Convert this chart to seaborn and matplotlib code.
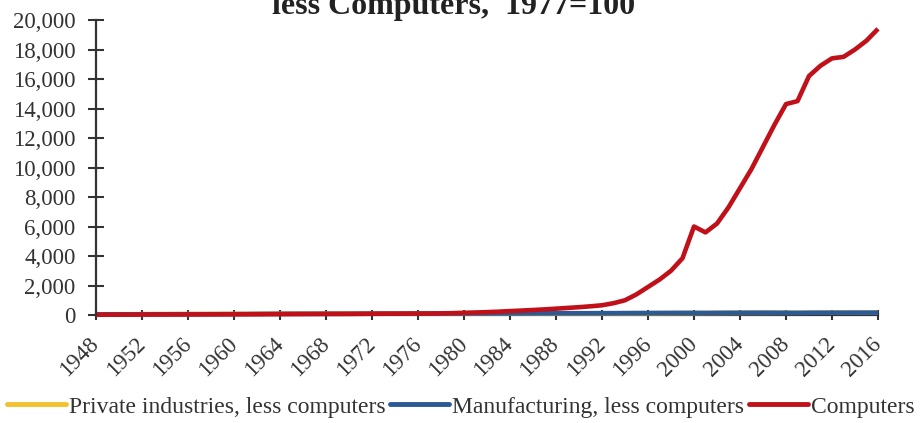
import matplotlib
matplotlib.use("Agg")
import matplotlib.pyplot as plt
import matplotlib.ticker as mticker
import seaborn as sns
import pandas as pd

years = list(range(1948, 2017))

computers = [20, 22, 24, 26, 28, 31, 33, 35, 38, 40,
             42, 45, 48, 50, 53, 56, 59, 62, 65, 68,
             71, 73, 76, 79, 82, 86, 89, 93, 96, 100,
             110, 125, 150, 170, 195, 225, 265, 300, 340, 380,
             430, 480, 530, 590, 660, 800, 1000, 1400, 1900, 2400,
             3000, 3850, 6000, 5600, 6200, 7300, 8600, 9900, 11400, 12900,
             14300, 14500, 16200, 16900, 17400, 17500, 18000, 18600, 19400]

private_less_computers = [48, 50, 53, 55, 57, 59, 61, 63, 65, 66,
                          68, 70, 71, 74, 77, 80, 83, 85, 87, 88,
                          89, 91, 92, 95, 97, 98, 97, 96, 99, 100,
                          100, 99, 98, 99, 100, 102, 103, 105, 106, 107,
                          108, 109, 110, 111, 114, 115, 116, 118, 119, 122,
                          124, 128, 131, 133, 136, 139, 142, 143, 144, 146,
                          148, 150, 153, 154, 155, 156, 157, 158, 159]

manufacturing_less_computers = [40, 42, 46, 47, 49, 52, 51, 55, 56, 56,
                                57, 61, 62, 64, 69, 73, 76, 78, 79, 78,
                                80, 80, 79, 84, 88, 91, 88, 89, 96, 100,
                                101, 101, 99, 101, 104, 108, 111, 113, 116, 118,
                                120, 121, 121, 123, 126, 128, 131, 134, 137, 140,
                                143, 146, 144, 140, 146, 150, 153, 155, 157, 154,
                                150, 144, 152, 156, 158, 159, 160, 161, 162]

series_names = ["Private industries, less computers",
                "Manufacturing, less computers",
                "Computers"]
series_colors = ["#F2C12E", "#2B5A97", "#C0111A"]
x_ticks = list(range(1948, 2017, 4))
y_ticks = list(range(0, 20001, 2000))
title_text = "less Computers,  1977=100"

df = pd.concat([
    pd.DataFrame({"Year": years, "Index": private_less_computers, "Series": series_names[0]}),
    pd.DataFrame({"Year": years, "Index": manufacturing_less_computers, "Series": series_names[1]}),
    pd.DataFrame({"Year": years, "Index": computers, "Series": series_names[2]}),
], ignore_index=True)

sns.set_style("white")
plt.rcParams["font.family"] = ["Liberation Serif", "DejaVu Serif"]

fig = plt.figure(figsize=(9.21, 4.23), dpi=100)
ax = fig.add_axes([96 / 921, 1 - 315 / 423, (878 - 96) / 921, (315 - 20) / 423])

sns.lineplot(data=df, x="Year", y="Index", hue="Series", hue_order=series_names,
             palette=dict(zip(series_names, series_colors)), linewidth=3.3,
             ax=ax, legend=False)
for ln in ax.lines:
    ln.set_clip_on(False)
    ln.set_solid_capstyle("butt")

ax.set_xlim(1948, 2016)
ax.set_ylim(0, 20000)
ax.set_xticks(x_ticks)
ax.set_yticks(y_ticks)
ax.yaxis.set_major_formatter(mticker.FuncFormatter(lambda v, p: f"{v:,.0f}"))
ax.set_xlabel("")
ax.set_ylabel("")

for s in ["top", "right"]:
    ax.spines[s].set_visible(False)
for s in ["left", "bottom"]:
    ax.spines[s].set_color("#333333")
    ax.spines[s].set_linewidth(1.6)
ax.spines["bottom"].set_zorder(0)

ax.tick_params(axis="y", left=True, direction="inout", length=11.5, width=1.5, color="#333333",
               pad=9, labelsize=16.5, labelcolor="#333333")
ax.tick_params(axis="x", bottom=True, direction="inout", length=7, width=1.5, color="#333333",
               pad=15, labelsize=16.5, labelcolor="#333333")
for lab in ax.get_xticklabels():
    lab.set_rotation(45)
    lab.set_ha("right")
    lab.set_va("center")
    lab.set_rotation_mode("anchor")

fig.text(0.492, 1 - 14 / 423, title_text, ha="center", va="baseline",
         fontsize=23, fontweight="bold", color="#222222")

handles = [plt.Line2D([], [], color=c, linewidth=3.5) for c in series_colors]
fig.legend(handles, series_names, loc="center", bbox_to_anchor=(0.5, 1 - 407 / 423),
           ncol=3, frameon=False, fontsize=17, handlelength=2.5, handletextpad=0.12,
           columnspacing=0.2, borderpad=0, labelcolor="#333333")

fig.savefig("out.png", dpi=100)
